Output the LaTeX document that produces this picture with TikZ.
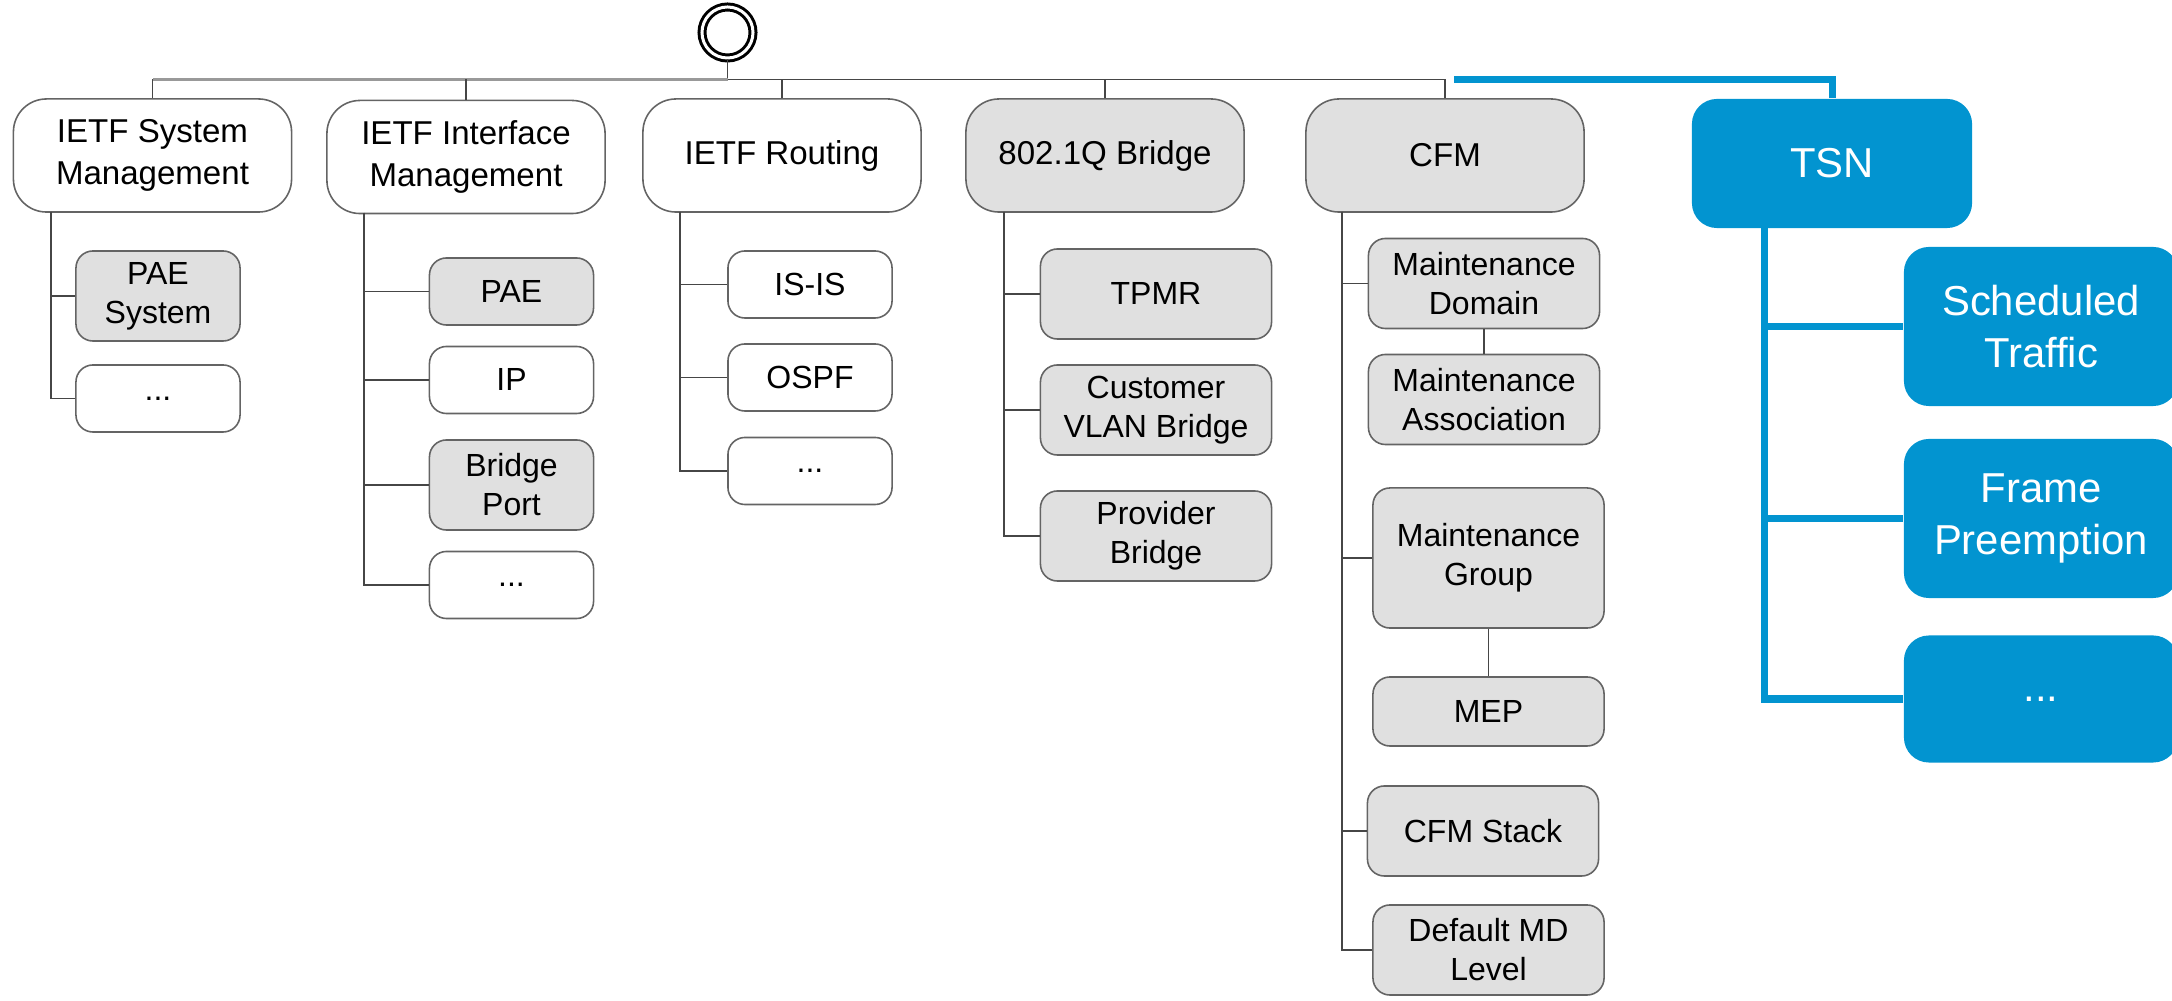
\documentclass[tikz,border=0pt]{standalone}
\usepackage{fontspec}
\setmainfont{Liberation Sans}
\usetikzlibrary{calc}
\definecolor{tsnblue}{RGB}{2,148,208}
\definecolor{boxfill}{RGB}{224,224,224}
\definecolor{boxline}{RGB}{100,100,100}
\definecolor{linegray}{RGB}{70,70,70}

\begin{document}
\begin{tikzpicture}[x=0.01cm, y=-0.01cm,
      module/.style={draw=boxline, line width=0.45pt, rounded corners=0.33cm, minimum width=2.78cm, minimum height=1.13cm, inner sep=0pt, align=center, font=\fontsize{9.4pt}{12pt}\selectfont},
      feature/.style={draw=boxline, line width=0.45pt, rounded corners=0.17cm, minimum width=1.64cm, minimum height=0.67cm, inner sep=0pt, align=center, font=\fontsize{9.1pt}{11.1pt}\selectfont},
      wide/.style={minimum width=2.31cm},
      tall/.style={minimum height=0.90cm},
      grey/.style={fill=boxfill},
      tsnmod/.style={fill=tsnblue, rounded corners=0.25cm, text=white, inner sep=0pt, align=center, minimum width=2.74cm, minimum height=1.59cm, font=\fontsize{11.9pt}{14.8pt}\selectfont},
      conn/.style={draw=linegray, line width=0.45pt},
      tsnconn/.style={draw=tsnblue, line width=2pt}
    ]
    \useasboundingbox (0,0) rectangle (2172,1001);

    \node[draw, circle, double, double distance=0.85pt, line width=0.85pt, minimum size=0.51cm, inner sep=0pt] (root) at (727.5,32.5) {};

    \node[module] (sys) at (152.5,155.5) {IETF System\\Management};
    \node[module] (ifm) at (466,157) {IETF Interface\\Management};
    \node[module] (rout) at (782,155.5) {IETF Routing};
    \node[module,grey] (br) at (1105,155.5) {802.1Q Bridge};
    \node[module,grey] (cfm) at (1445,155.5) {CFM};
    \node[tsnmod,minimum width=2.80cm,minimum height=1.29cm] (tsn) at (1832,163.5) {TSN};

    % top bus
    \coordinate (busL) at (153,79.5);
    \coordinate (busR) at (1445,79.5);
    \coordinate (tsnL) at (1454,79.5);
    \draw[conn] (root.south) -- (root.south |- busL);
    \draw[conn,draw=gray!80,line width=1.1pt] (busL) -- (root.south |- busL);
    \draw[conn] (root.south |- busL) -- (busR);
    \foreach \m in {sys,ifm,rout,br,cfm}
      \draw[conn] (\m.north) -- (\m.north |- busL);
    \draw[tsnconn] (tsnL) -| (tsn.north);

    % IETF System Management
    \node[feature,grey,tall] (paesys) at (158,296) {PAE\\System};
    \node[feature] (sysdots) at (158,398.5) {...};
    \coordinate (sysb) at (51,212);
    \draw[conn] (sysb) |- (paesys.west);
    \draw[conn] (sysb) |- (sysdots.west);

    % IETF Interface Management
    \node[feature,grey] (pae) at (511.5,291.5) {PAE};
    \node[feature] (ip) at (511.5,380) {IP};
    \node[feature,grey,tall] (bport) at (511.5,485) {Bridge\\Port};
    \node[feature] (ifdots) at (511.5,585) {...};
    \coordinate (ifmb) at (364,213);
    \draw[conn] (ifmb) |- (pae.west);
    \draw[conn] (ifmb) |- (ip.west);
    \draw[conn] (ifmb) |- (bport.west);
    \draw[conn] (ifmb) |- (ifdots.west);

    % IETF Routing
    \node[feature] (isis) at (810,284.5) {IS-IS};
    \node[feature] (ospf) at (810,377.5) {OSPF};
    \node[feature] (rtdots) at (810,471) {...};
    \coordinate (routb) at (680,212);
    \draw[conn] (routb) |- (isis.west);
    \draw[conn] (routb) |- (ospf.west);
    \draw[conn] (routb) |- (rtdots.west);

    % 802.1Q Bridge
    \node[feature,grey,wide,tall] (tpmr) at (1156,294) {TPMR};
    \node[feature,grey,wide,tall] (cvb) at (1156,410) {Customer\\VLAN Bridge};
    \node[feature,grey,wide,tall] (pb) at (1156,536) {Provider\\Bridge};
    \coordinate (brb) at (1004,212);
    \draw[conn] (brb) |- (tpmr.west);
    \draw[conn] (brb) |- (cvb.west);
    \draw[conn] (brb) |- (pb.west);

    % CFM
    \node[feature,grey,wide,tall] (md) at (1484,283.5) {Maintenance\\Domain};
    \node[feature,grey,wide,tall] (ma) at (1484,399.5) {Maintenance\\Association};
    \node[feature,grey,wide,minimum height=1.40cm] (mg) at (1488.5,558) {Maintenance\\Group};
    \node[feature,grey,wide,minimum height=0.69cm] (mep) at (1488.5,711.5) {MEP};
    \node[feature,grey,wide,tall] (stack) at (1483,831) {CFM Stack};
    \node[feature,grey,wide,tall] (dml) at (1488.5,950) {Default MD\\Level};
    \coordinate (cfmb) at (1342,212);
    \draw[conn] (cfmb) |- (md.west);
    \draw[conn] (cfmb) |- (mg.west);
    \draw[conn] (cfmb) |- (stack.west);
    \draw[conn] (cfmb) |- (dml.west);
    \draw[conn] (md.south) -- (ma.north);
    \draw[conn] (mg.south) -- (mep.north);

    % TSN
    \node[tsnmod] (st) at (2041,326.5) {Scheduled\\Traffic};
    \node[tsnmod] (fp) at (2041,518.5) {Frame\\Preemption};
    \node[tsnmod,minimum height=1.27cm] (tdots) at (2041,699) {...};
    \coordinate (tsnb) at (1764,228);
    \draw[tsnconn] (tsnb) |- (st.west);
    \draw[tsnconn] (tsnb) |- (fp.west);
    \draw[tsnconn] (tsnb) |- (tdots.west);
\end{tikzpicture}
\end{document}
